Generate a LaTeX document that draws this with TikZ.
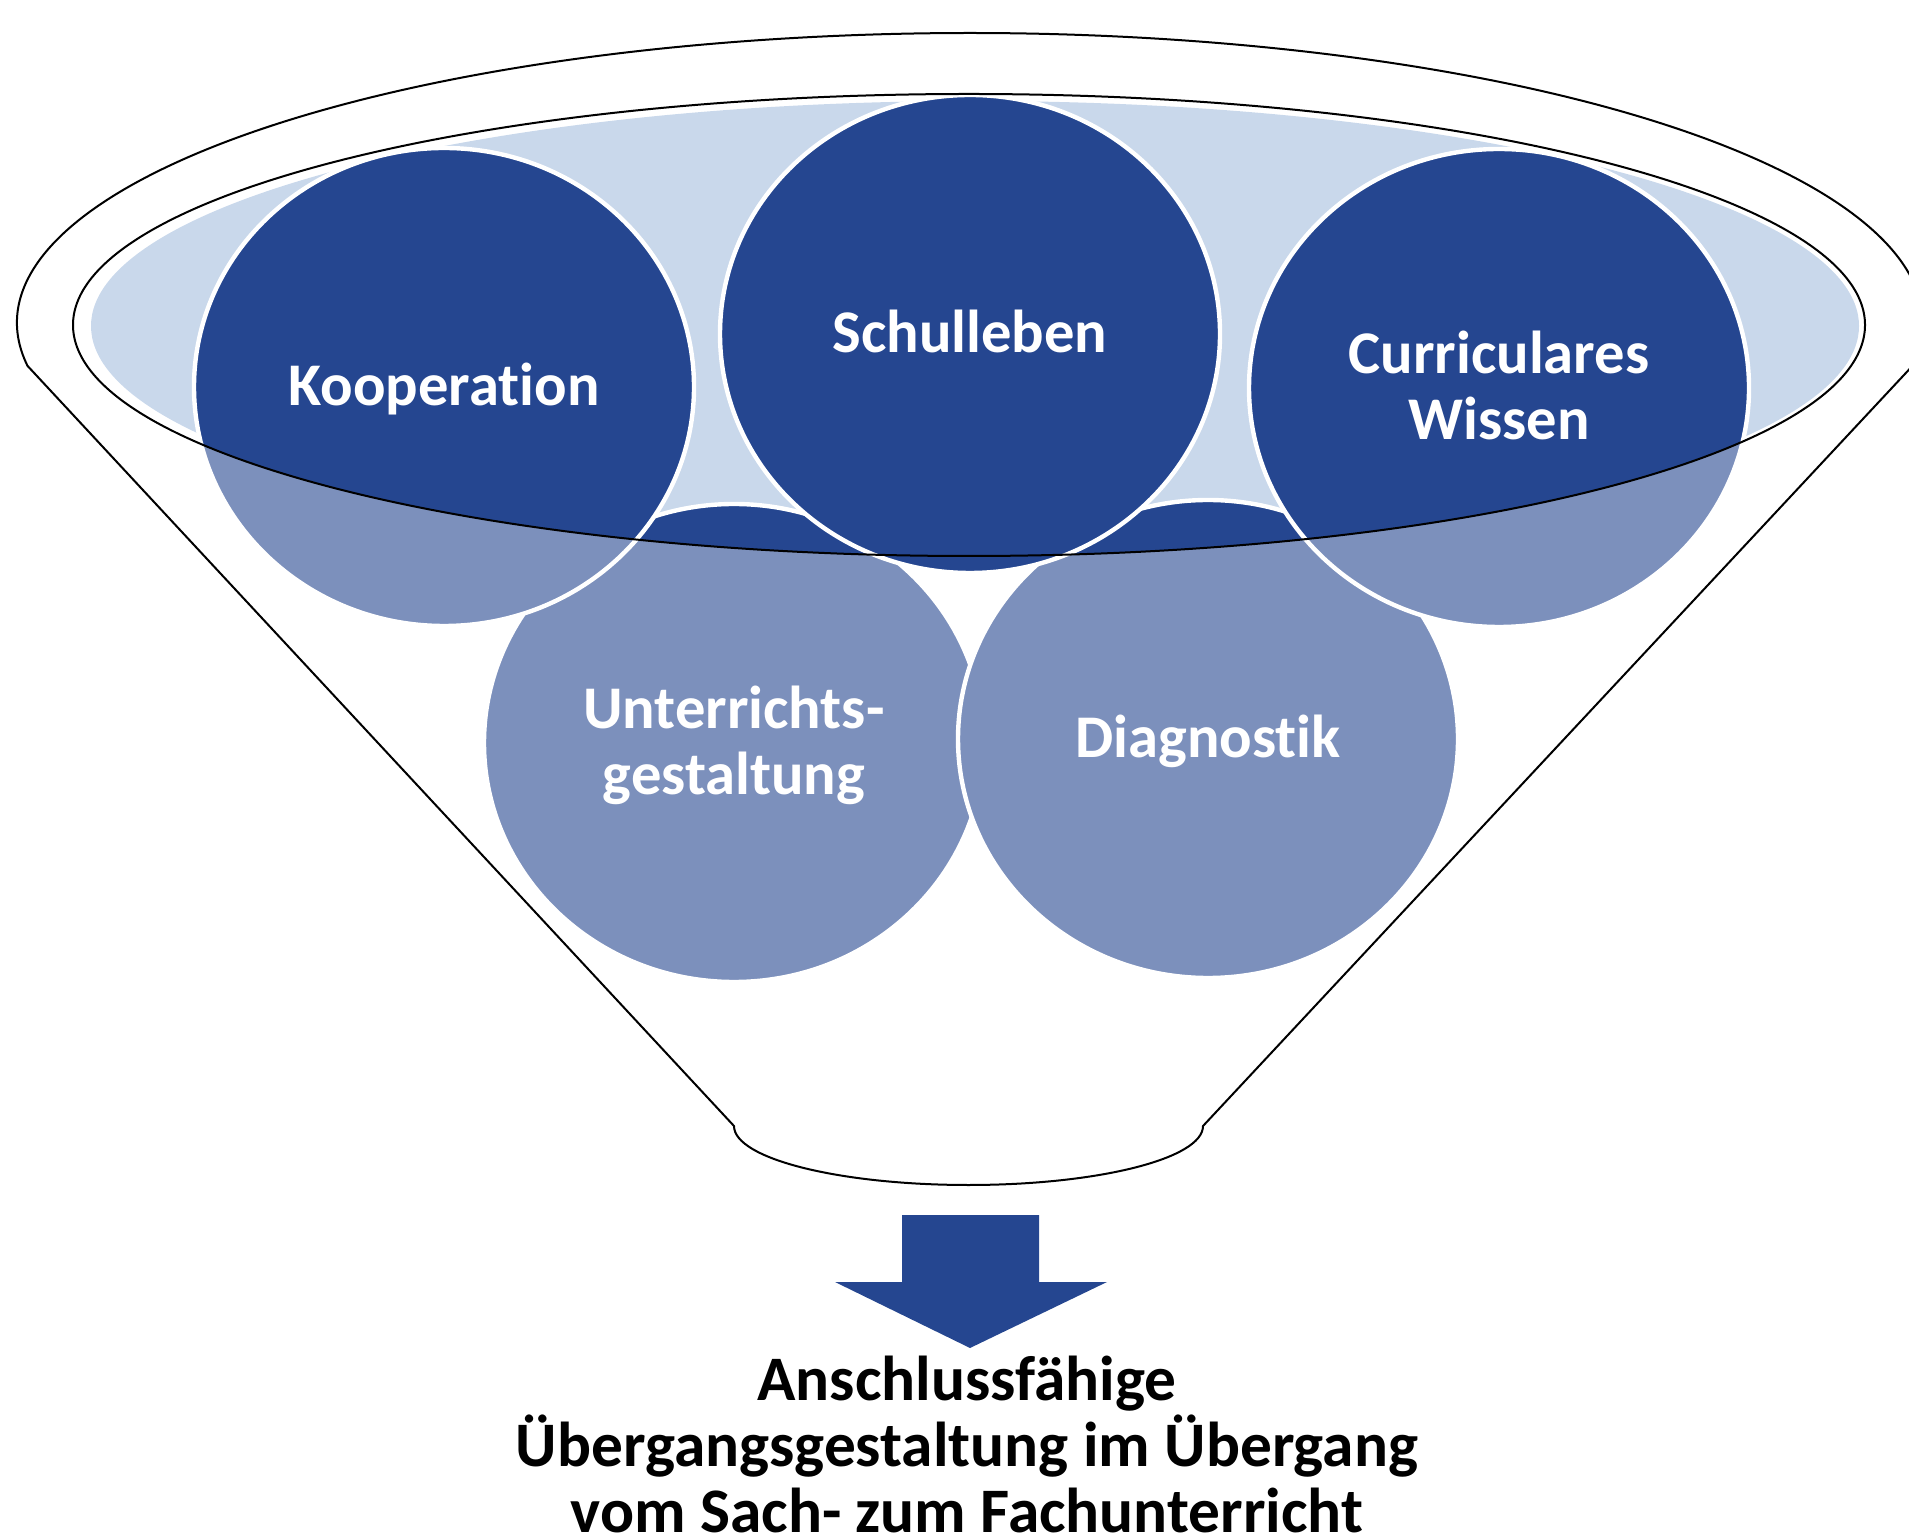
\documentclass[tikz,border=0pt]{standalone}
\usepackage{fontspec}
\setmainfont[Ligatures=NoCommon]{Carlito}
\usetikzlibrary{shapes.geometric}
\definecolor{darkblue}{RGB}{37,70,144}
\definecolor{paleblue}{RGB}{201,216,235}

\begin{document}
\begin{tikzpicture}[x=0.5pt, y=0.5pt,
bubble/.style={ellipse, minimum width=250pt, minimum height=239pt, inner sep=0pt,
fill=darkblue, draw=white, line width=2.2pt},
label text/.style={text=white, align=center, inner sep=0pt, anchor=base,
font=\bfseries\fontsize{30.3}{33}\selectfont},
result/.style={text=black, align=center, inner sep=0pt, anchor=base,
font=\bfseries\fontsize{31.7}{33}\selectfont},
rim/.style={draw=black, line width=1pt}]
\useasboundingbox (0,0) rectangle (1909,1537);
\clip (0,0) rectangle (1909,1537);
\fill[paleblue] (975,1211) ellipse[x radius=884, y radius=225];
\node[bubble] (unter) at (734,794) {};
\node[bubble] (diag) at (1208,798) {};
\node[bubble] (koop) at (444,1150) {};
\node[bubble] (curr) at (1499,1149) {};
\fill[white, opacity=0.4] (73,1212) arc[start angle=180, end angle=360, x radius=896, y radius=231]
  -- (1909,1212) -- (1909,0) -- (0,0) -- (0,1212) -- cycle;
\node[bubble] (schul) at (970,1203) {};
\draw[rim] (969,1212) ellipse[x radius=896, y radius=231];
\draw[rim] (970,1214) ++(188.5:953 and 290)
  arc[start angle=188.5, end angle=-8.5, x radius=953, y radius=290]
  -- (1203,411) arc[start angle=0, end angle=-180, x radius=234.5, y radius=59] -- cycle;
\node[label text] (koopT) at ([yshift=-9.5pt]koop.center) {Kooperation};
\node[label text] (schulT) at ([yshift=-9.5pt]schul.center) {Schulleben};
\node[label text] (currT) at ([yshift=-26pt]curr.center) {Curriculares\\Wissen};
\node[label text] (unterT) at ([yshift=-26pt]unter.center) {Unterrichts-\\gestaltung};
\node[label text] (diagT) at ([yshift=-9.5pt]diag.center) {Diagnostik};
\fill[darkblue] (902,322) -- (1039,322) -- (1039,255) -- (1107,255) -- (970,189)
  -- (835,255) -- (902,255) -- cycle;
\node[result] (ziel) at (967,5) {Anschlussfähige\\Übergangsgestaltung im Übergang\\vom Sach- zum Fachunterricht};
\end{tikzpicture}
\end{document}
